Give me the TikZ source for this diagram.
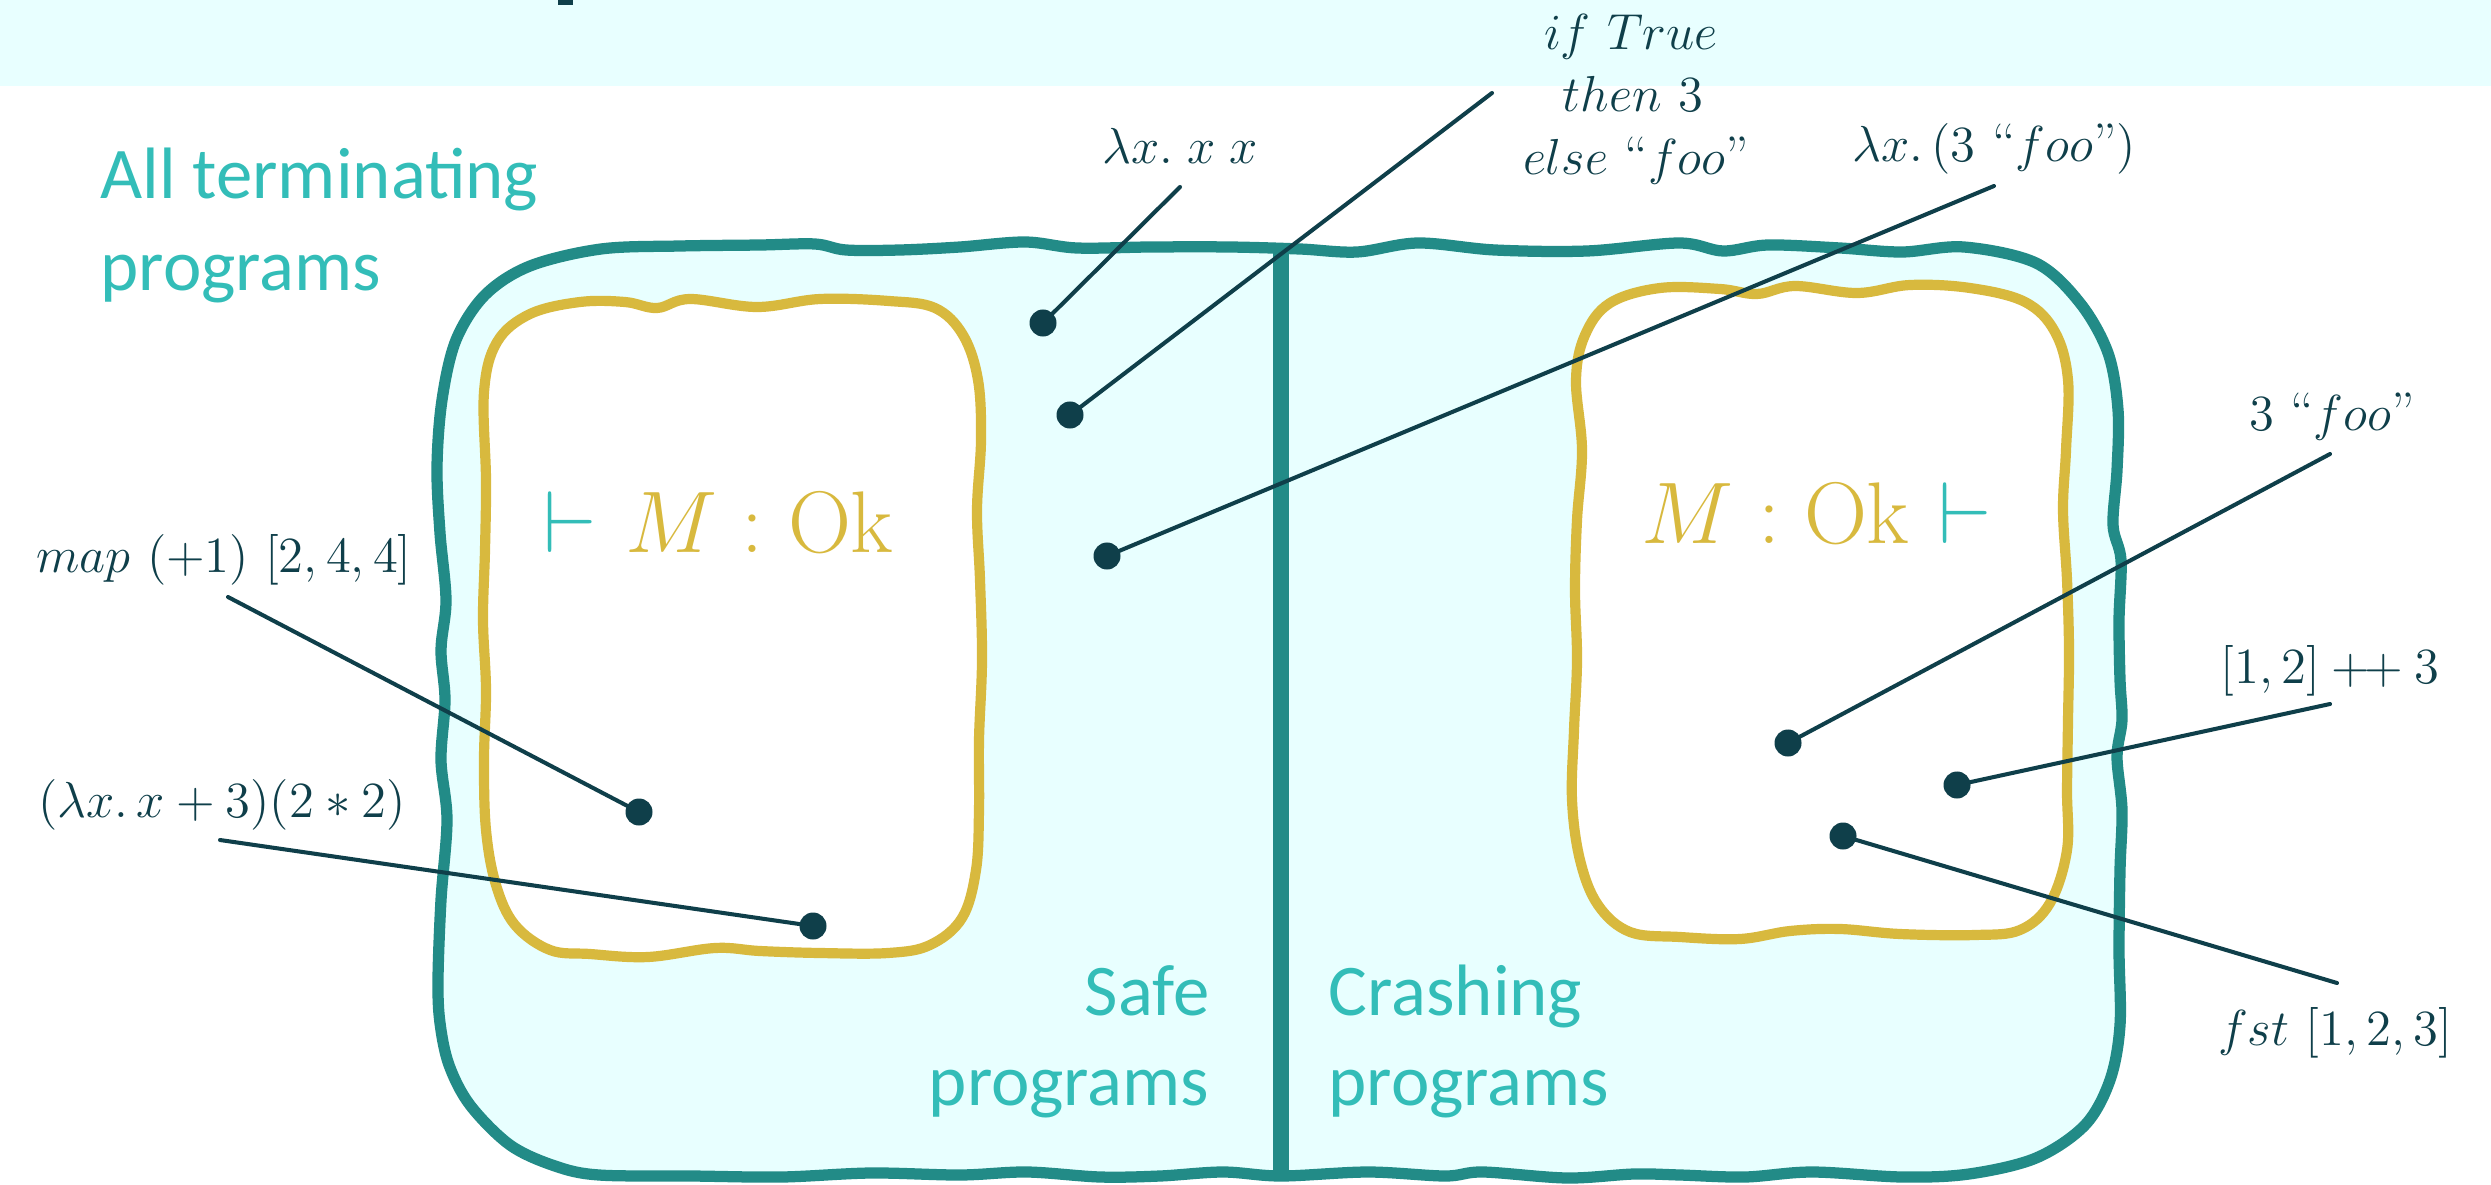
\documentclass[tikz,border=0pt]{standalone}
\usepackage[no-math]{fontspec}
\newfontfamily\calibri{Carlito}
\definecolor{tealline}{HTML}{228B87}
\definecolor{cyanfill}{HTML}{E8FFFF}
\definecolor{yel}{HTML}{D8B93E}
\definecolor{cyantext}{HTML}{33BDB8}
\definecolor{darkc}{HTML}{0F3F4A}
\tikzset{
  outerline/.style={draw=tealline, line width=3.2pt, fill=cyanfill, line join=round},
  divider/.style={draw=tealline, line width=4.5pt},
  yelline/.style={draw=yel, line width=2.9pt, fill=white, line join=round},
  dotnode/.style={circle, fill=darkc, inner sep=0pt, minimum size=0.27cm},
  conn/.style={draw=darkc, line width=1.15pt, line cap=round},
  sanslabel/.style={font=\calibri\fontsize{20.7}{25}\selectfont, text=cyantext, inner sep=0pt},
  mathlabel/.style={font=\fontsize{15.4}{18.5}\selectfont, text=darkc, inner sep=0pt, anchor=base},
  biglabel/.style={font=\fontsize{27}{32}\selectfont, inner sep=0pt, anchor=base west},
}
\begin{document}
\begin{tikzpicture}[x=0.01cm, y=-0.01cm]
\useasboundingbox (0,0) rectangle (2491,1185);
% top band
\fill[cyanfill] (0,0) rectangle (2491,86);
\fill[darkc] (558,0) rectangle (573,5);
% outer shape
\path[outerline] plot[smooth cycle, tension=0.55] coordinates {
 (442,400) (456,340) (485,295) (530,266) (601,249) (680,246) (760,245) (815,244) (846,250)
 (900,250) (960,247) (1025,242) (1077,248) (1150,247) (1230,247) (1300,249) (1357,252) (1418,243) (1495,250)
 (1587,251) (1679,243) (1723,251) (1768,245) (1840,248) (1902,252) (1964,247) (2036,263)
 (2080,303) (2108,353) (2118,410) (2117,470) (2113,525) (2121,560) (2119,620) (2120,680)
 (2122,720) (2117,757) (2122,810) (2120,870) (2119,950) (2120,1025) (2110,1080) (2085,1125)
 (2036,1158) (1969,1174) (1902,1177) (1812,1172) (1745,1177) (1680,1175) (1634,1174) (1567,1178)
 (1483,1172) (1445,1176) (1368,1172) (1281,1176) (1223,1172) (1160,1176) (1100,1177) (1027,1172)
 (960,1175) (871,1173) (782,1177) (692,1176) (599,1175) (555,1166) (510,1145)
 (470,1105) (449,1065) (440,1023) (438,980) (441,900) (447,820) (441,760) (445,700)
 (441,650) (446,600) (440,533) (437,467)};
\coordinate (divtop) at (1281,249);
\coordinate (divbot) at (1281,1175);
\draw[divider] (divtop) -- (divbot);
% yellow left
\path[yelline] plot[smooth cycle, tension=0.6] coordinates {
 (484,392) (497,342) (530,314) (580,302) (625,302) (657,308) (690,299) (757,307)
 (820,299) (889,301) (935,308) (963,335) (978,380) (981,440) (977,510) (980,580)
 (982,660) (979,740) (979,810) (976,870) (962,918) (930,945) (888,953) (820,953)
 (760,951) (715,948) (648,957) (590,954) (550,950) (515,925) (496,885) (486,830)
 (484,760) (486,690) (483,620) (485,550) (486,480)};
% yellow right
\path[yelline] plot[smooth cycle, tension=0.6] coordinates {
 (1576,380) (1585,335) (1610,303) (1660,288) (1720,289) (1757,294) (1795,286)
 (1857,293) (1910,285) (1970,288) (2025,302) (2055,332) (2068,380) (2066,450)
 (2063,510) (2067,580) (2069,650) (2068,720) (2067,790) (2067,850) (2050,903)
 (2020,930) (1975,935) (1900,934) (1840,929) (1790,931) (1740,939) (1680,937)
 (1630,932) (1598,905) (1580,860) (1572,800) (1574,730) (1577,660) (1575,590)
 (1577,520) (1582,450)};
% region labels
\node[sanslabel, anchor=base west] (all1) at (100,199) {All terminating};
\node[sanslabel, anchor=base west] (all2) at (100,290) {programs};
\node[sanslabel, anchor=base east] (safe1) at (1210,1015) {Safe};
\node[sanslabel, anchor=base east] (safe2) at (1210,1105) {programs};
\node[sanslabel, anchor=base west] (crash1) at (1328,1015) {Crashing};
\node[sanslabel, anchor=base west] (crash2) at (1328,1105) {programs};
% typing judgements
\node[biglabel] (okleft) at (543,552) {{\color{cyantext}$\vdash$}\hspace{0.3em}{\color{yel}$M : \mathrm{Ok}$}};
\node[biglabel] (okright) at (1641,543) {{\color{yel}$M : \mathrm{Ok}$}\hspace{0.3em}{\color{cyantext}$\vdash$}};
% term labels
\node[mathlabel] (l1) at (1180,163) {$\lambda x.\; x\; x$};
\node[mathlabel] (l2a) at (1631,50) {$if\ True$};
\node[mathlabel] (l2b) at (1633,112) {$then\ 3$};
\node[mathlabel] (l2c) at (1636,175) {$else\ \mbox{``}foo\mbox{''}$};
\node[mathlabel] (l3) at (1994,162) {$\lambda x.\,(3\ \mbox{``}foo\mbox{''})$};
\node[mathlabel] (l4) at (2332,430) {$3\ \mbox{``}foo\mbox{''}$};
\node[mathlabel] (l5) at (2330,683) {$[1,2] \mathbin{+\mkern-2mu+} 3$};
\node[mathlabel] (l6) at (2335,1045) {$fst\ [1,2,3]$};
\node[mathlabel] (l7) at (224,572) {$map\ (+1)\ [2,4,4]$};
\node[mathlabel] (l8) at (222,817) {$(\lambda x.\, x+3)(2*2)$};
% connector ends near labels
\coordinate (e1) at (1180,187);
\coordinate (e2) at (1492,93);
\coordinate (e3) at (1994,186);
\coordinate (e4) at (2330,454);
\coordinate (e5) at (2330,704);
\coordinate (e6) at (2337,983);
\coordinate (e7) at (228,597);
\coordinate (e8) at (220,840);
% dots
\node[dotnode] (d1) at (1043,323) {};
\node[dotnode] (d2) at (1070,415) {};
\node[dotnode] (d3) at (1107,556) {};
\node[dotnode] (d4) at (1788,743) {};
\node[dotnode] (d5) at (1957,785) {};
\node[dotnode] (d6) at (1843,836) {};
\node[dotnode] (d7) at (639,812) {};
\node[dotnode] (d8) at (813,926) {};
\foreach \i in {1,...,8} { \draw[conn] (d\i.center) -- (e\i); }
\end{tikzpicture}
\end{document}
